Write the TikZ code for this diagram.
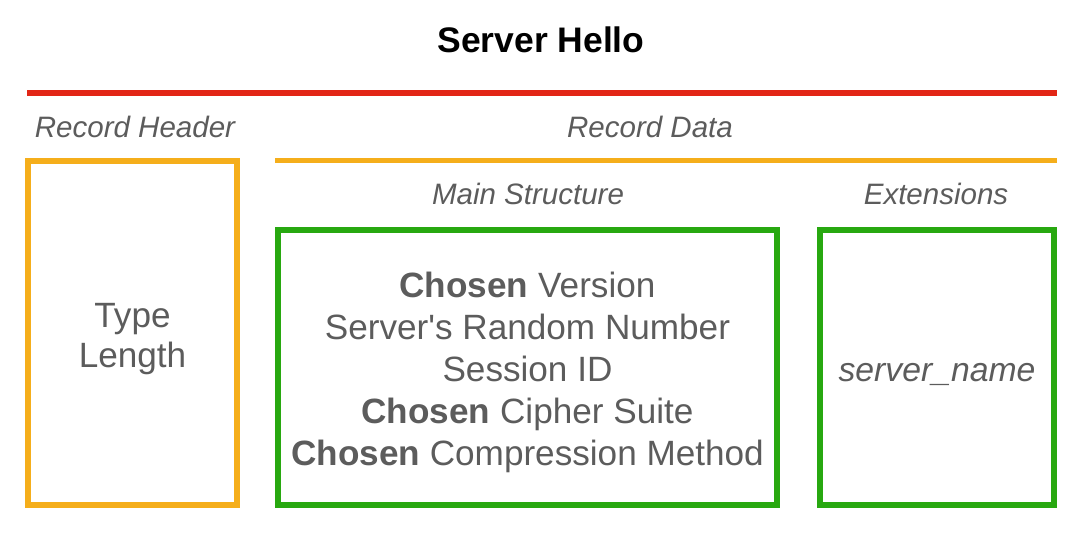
\documentclass[tikz,border=0pt]{standalone}
\usepackage{fontspec}
\setmainfont{Liberation Sans}
\usetikzlibrary{positioning}

\definecolor{hdrred}{RGB}{226,38,22}
\definecolor{hdrorange}{RGB}{245,174,27}
\definecolor{hdrgreen}{RGB}{40,168,16}
\definecolor{txtgray}{RGB}{92,92,92}

\tikzset{
  section/.style={font=\fontsize{16.8}{20}\selectfont\itshape, text=txtgray},
  field/.style={font=\fontsize{20}{23.8}\selectfont, text=txtgray, align=center},
  recbox/.style={draw=#1, line width=0.12cm, inner sep=0pt}
}

\begin{document}
\begin{tikzpicture}[x=0.02cm, y=-0.02cm]
\useasboundingbox (0,0) rectangle (1082,534);

% Title
\node[font=\fontsize{20.2}{24}\selectfont\bfseries] (title) at (541,40) {Server Hello};
\draw[hdrred, line width=0.12cm] (27,93) -- (1057,93);

% Record header
\node[section] (hdrlabel) at (135,127) {Record Header};
\node[recbox=hdrorange, minimum width=4.18cm, minimum height=6.88cm] (header) at (132.5,333) {};
\node[field, font=\fontsize{20}{22.7}\selectfont, yshift=-0.12cm] (hdrtext) at (header.center) {Type\\Length};

% Record data
\node[section] (datalabel) at (650,127) {Record Data};
\draw[hdrorange, line width=0.1cm] (275,160) -- (1057,160);

\node[section] (mainlabel) at (528,194) {Main Structure};
\node[section] (extlabel) at (936,194) {Extensions};

\node[recbox=hdrgreen, minimum width=9.98cm, minimum height=5.5cm] (main) at (527.5,367.5) {};
\node[field, yshift=-0.1cm] (maintext) at (main.center)
  {\textbf{Chosen} Version\\
   Server\textquotesingle s Random Number\\
   Session ID\\
   \textbf{Chosen} Cipher Suite\\
   \textbf{Chosen} Compression Method};

\node[recbox=hdrgreen, minimum width=4.68cm, minimum height=5.5cm] (ext) at (937,367.5) {};
\node[field, font=\fontsize{19.2}{23}\selectfont\itshape, yshift=-0.13cm] (exttext) at (ext.center) {server\_name};
\end{tikzpicture}
\end{document}
